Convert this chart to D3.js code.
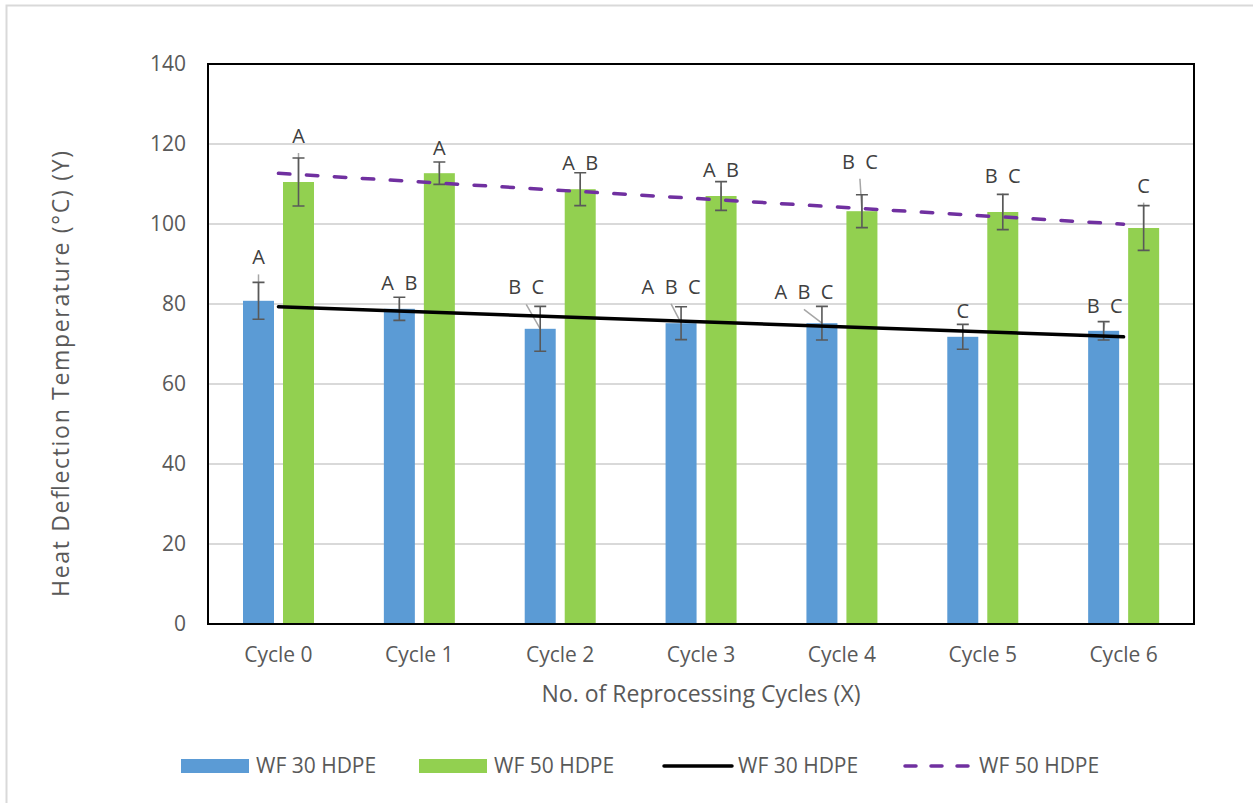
<!DOCTYPE html>
<html>
<head>
<meta charset="utf-8">
<script src="https://cdnjs.cloudflare.com/ajax/libs/d3/7.8.5/d3.min.js"></script>
<style>
  html, body { margin: 0; padding: 0; background: #fff; }
  svg { display: block; font-family: "Open Sans", sans-serif; }
  .lbl { white-space: pre; }
</style>
</head>
<body>
<svg id="chart" width="1253" height="803"></svg>
<script>
// ---------------- DATA ----------------
const categories = ["Cycle 0", "Cycle 1", "Cycle 2", "Cycle 3", "Cycle 4", "Cycle 5", "Cycle 6"];
const seriesNames = ["WF 30 HDPE", "WF 50 HDPE"];
const wf30Values = [80.8, 78.8, 73.8, 75.2, 75.2, 71.8, 73.3];
const wf30Errors = [4.6, 2.9, 5.6, 4.1, 4.2, 3.1, 2.3];
const wf50Values = [110.5, 112.7, 108.7, 107.0, 103.2, 103.0, 99.0];
const wf50Errors = [6.0, 2.8, 4.1, 3.6, 4.1, 4.4, 5.6];
const wf30Letters = ["A", "A  B", "B  C", "A  B  C", "A  B  C", "C", "B  C"];
const wf50Letters = ["A", "A", "A  B", "A  B", "B  C", "B  C", "C"];
const yTicks = [0, 20, 40, 60, 80, 100, 120, 140];
const yTitle = "Heat Deflection Temperature (\u00B0C) (Y)";
const xTitle = "No. of Reprocessing Cycles (X)";

// ---------------- LAYOUT ----------------
const L = 208, R = 1194, T = 64, B = 624;
const colors = { wf30: "#5b9bd5", wf50: "#92d050", trend30: "#000000", trend50: "#7030a0" };
// label nudges (px) relative to bar centre / error-bar top, per series
const nudge30 = [[0, -25], [0, -14], [-14, -19], [-10, -20], [-18, -14], [0, -13], [1, -16]];
const nudge50 = [[0, -22], [0, -14], [0, -10], [0, -12], [-2, -33], [0, -18], [0, -20]];

const svg = d3.select("#chart");

// outer chart border (top & left visible)
svg.append("rect").attr("x", 6.5).attr("y", 5.5).attr("width", 1260).attr("height", 820)
  .attr("fill", "none").attr("stroke", "#d9d9d9").attr("stroke-width", 2);

const x = d3.scaleBand().domain(categories).range([L, R]).padding(0);
const xSub = d3.scaleBand().domain(seriesNames).range([35, 106]).paddingInner(0.225);
const y = d3.scaleLinear().domain([0, 140]).range([B, T]);

// gridlines
svg.append("g").selectAll("line").data(yTicks.filter(d => d > 0 && d < 140)).join("line")
  .attr("x1", L).attr("x2", R).attr("y1", d => y(d)).attr("y2", d => y(d))
  .attr("stroke", "#d9d9d9").attr("stroke-width", 2);

// y axis labels
const yAxis = d3.axisLeft(y).tickValues(yTicks).tickSize(0).tickPadding(22);
const gy = svg.append("g").attr("transform", `translate(${L},0)`).call(yAxis);
gy.select(".domain").remove();
gy.selectAll("text").attr("font-family", "Open Sans").attr("font-size", 21).attr("fill", "#595959");

// x axis labels
const xAxis = d3.axisBottom(x).tickSize(0).tickPadding(23);
const gx = svg.append("g").attr("transform", `translate(0,${B})`).call(xAxis);
gx.select(".domain").remove();
gx.selectAll("text").attr("font-family", "Open Sans").attr("font-size", 21).attr("fill", "#595959");

// build rows
const rows = categories.map((c, i) => [
  { cat: c, s: seriesNames[0], v: wf30Values[i], e: wf30Errors[i], t: wf30Letters[i], n: nudge30[i], col: colors.wf30 },
  { cat: c, s: seriesNames[1], v: wf50Values[i], e: wf50Errors[i], t: wf50Letters[i], n: nudge50[i], col: colors.wf50 }
]).flat();
const cx = d => x(d.cat) + xSub(d.s) + xSub.bandwidth() / 2;

// bars
svg.append("g").selectAll("rect").data(rows).join("rect")
  .attr("x", d => x(d.cat) + xSub(d.s)).attr("width", xSub.bandwidth())
  .attr("y", d => y(d.v)).attr("height", d => y(0) - y(d.v))
  .attr("fill", d => d.col);

// label positions
const lx = d => cx(d) + d.n[0];
const ly = d => y(d.v + d.e) + d.n[1];

// leader lines
svg.append("g").selectAll("line").data(rows.filter(d => ly(d) + 17 < y(d.v))).join("line")
  .attr("x1", d => lx(d)).attr("y1", d => ly(d) + 17)
  .attr("x2", d => cx(d)).attr("y2", d => y(d.v))
  .attr("stroke", "#a6a6a6").attr("stroke-width", 1.5);

// error bars
const eg = svg.append("g").attr("stroke", "#595959").attr("stroke-width", 1.6).attr("fill", "none");
eg.selectAll("path").data(rows).join("path")
  .attr("d", d => {
    const xc = cx(d), y1 = y(d.v + d.e), y2 = y(d.v - d.e), w = 6;
    return `M${xc},${y1}V${y2}M${xc - w},${y1}H${xc + w}M${xc - w},${y2}H${xc + w}`;
  });

// trend lines (linear least squares)
function fit(vals) {
  const n = vals.length, xs = d3.range(n);
  const mx = d3.mean(xs), my = d3.mean(vals);
  const sxy = d3.sum(xs, i => (i - mx) * (vals[i] - my));
  const sxx = d3.sum(xs, i => (i - mx) * (i - mx));
  const b = sxy / sxx, a = my - b * mx;
  return [[0, a], [n - 1, a + b * (n - 1)]];
}
const catCenter = i => x(categories[i]) + x.bandwidth() / 2;
const line = d3.line().x(d => catCenter(d[0])).y(d => y(d[1]));
svg.append("path").attr("d", line(fit(wf30Values))).attr("stroke", colors.trend30)
  .attr("stroke-width", 3.5).attr("fill", "none").attr("stroke-linecap", "round");
svg.append("path").attr("d", line(fit(wf50Values))).attr("stroke", colors.trend50)
  .attr("stroke-width", 3.5).attr("fill", "none").attr("stroke-linecap", "round")
  .attr("stroke-dasharray", "11.5,16.5");

// letter labels
svg.append("g").selectAll("text").data(rows).join("text")
  .attr("class", "lbl")
  .attr("x", d => lx(d)).attr("y", d => ly(d)).attr("dy", "0.35em")
  .attr("text-anchor", "middle").attr("font-size", 20).attr("fill", "#404040")
  .text(d => d.t);

// plot frame
svg.append("rect").attr("x", L).attr("y", T).attr("width", R - L).attr("height", B - T)
  .attr("fill", "none").attr("stroke", "#000").attr("stroke-width", 2);

// axis titles
svg.append("text").attr("x", (L + R) / 2).attr("y", 702).attr("text-anchor", "middle")
  .attr("font-size", 23).attr("fill", "#595959").text(xTitle);
svg.append("text").attr("transform", "translate(69,374) rotate(-90)").attr("text-anchor", "middle")
  .attr("font-size", 23).attr("fill", "#595959")
  .attr("textLength", 446).attr("lengthAdjust", "spacing").text(yTitle);

// legend
const legendItems = [
  { name: seriesNames[0], type: "bar", col: colors.wf30, x: 181 },
  { name: seriesNames[1], type: "bar", col: colors.wf50, x: 419 },
  { name: seriesNames[0], type: "line", col: colors.trend30, x: 662 },
  { name: seriesNames[1], type: "dash", col: colors.trend50, x: 903 }
];
const lg = svg.append("g");
legendItems.forEach(it => {
  const g = lg.append("g").attr("transform", `translate(${it.x},766)`);
  if (it.type === "bar") {
    g.append("rect").attr("x", 0).attr("y", -7).attr("width", 68).attr("height", 14).attr("fill", it.col);
  } else {
    g.append("line").attr("x1", 2).attr("x2", 70).attr("y1", 0).attr("y2", 0)
      .attr("stroke", it.col).attr("stroke-width", 3.5).attr("stroke-linecap", "round")
      .attr("stroke-dasharray", it.type === "dash" ? "11,15" : null);
  }
  g.append("text").attr("x", it.type === "bar" ? 75 : 76).attr("y", 0).attr("dy", "0.35em")
    .attr("font-size", 21).attr("fill", "#595959").text(it.name);
});
</script>
</body>
</html>
